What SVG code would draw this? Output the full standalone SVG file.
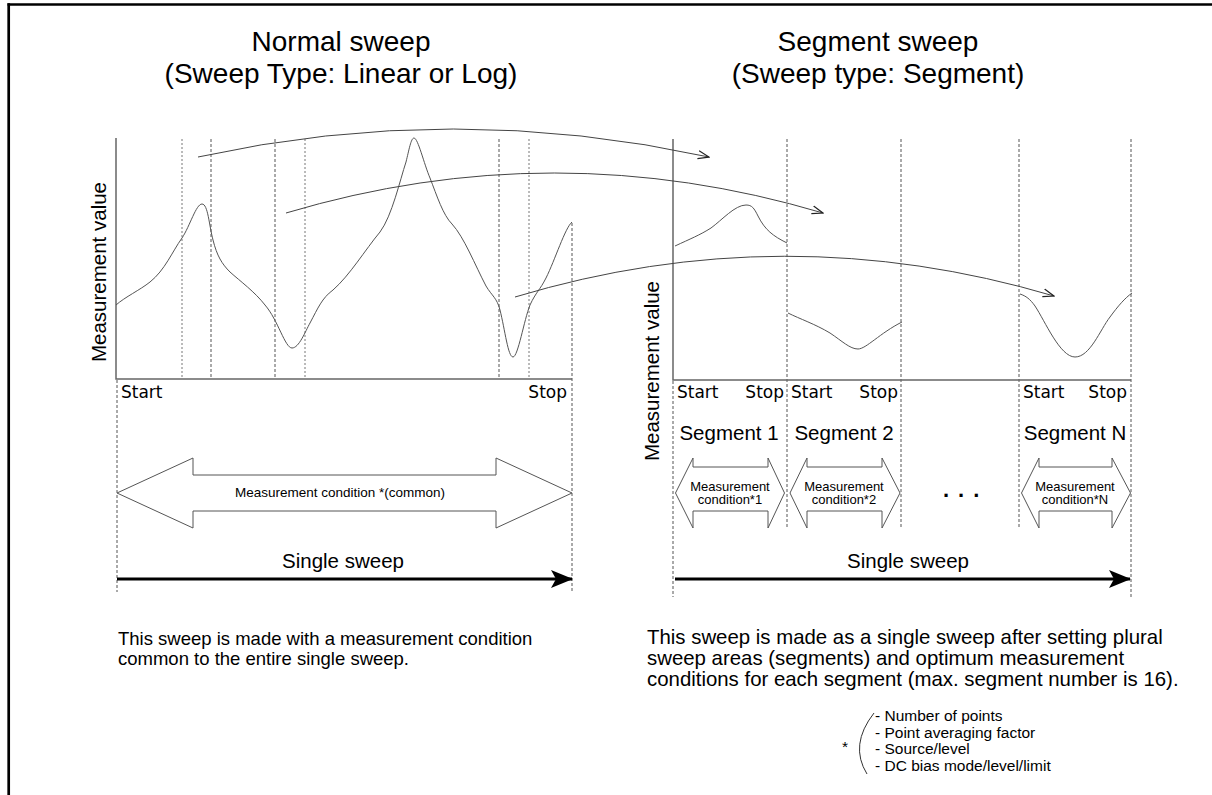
<svg xmlns="http://www.w3.org/2000/svg" width="1212" height="795" viewBox="0 0 1212 795">
<style>
.t{font-family:"Liberation Sans",Arial,sans-serif;fill:#000}
.title{font-size:28px;text-anchor:middle}
.bl{font-size:18.5px}
.br{font-size:20.4px}
.lbl{font-size:20.5px;text-anchor:middle}
.ss{font-family:"DejaVu Sans","Liberation Sans",sans-serif;font-size:17px;fill:#000}
.small{font-size:13px;text-anchor:middle}
.fn{font-size:15.5px}
.axis{stroke:#666;stroke-width:1.5;fill:none}
.dA{stroke:#777;stroke-width:1;stroke-dasharray:2 2;fill:none}
.dB{stroke:#555;stroke-width:1;stroke-dasharray:3 2;fill:none}
.curve{stroke:#555;stroke-width:1;fill:none}
.arc{stroke:#444;stroke-width:1;fill:none;marker-end:url(#open)}
.hollow{fill:#fff;stroke:#555;stroke-width:1}
.thick{stroke:#000;stroke-width:3;fill:none;marker-end:url(#solid)}
</style>
<defs>
<marker id="open" viewBox="0 0 12 10" refX="11" refY="5" markerWidth="12" markerHeight="10" markerUnits="userSpaceOnUse" orient="auto">
<path d="M0,1 L11,5 L0,9" fill="none" stroke="#222" stroke-width="1.2"/>
</marker>
<marker id="solid" viewBox="0 0 22 18" refX="21" refY="9" markerWidth="22" markerHeight="18" markerUnits="userSpaceOnUse" orient="auto">
<path d="M0,0 L22,9 L0,18 L5,9 Z" fill="#000"/>
</marker>
</defs>
<rect width="1212" height="795" fill="#fff"/>
<g id="frame">
<line x1="7.5" y1="4.5" x2="1212" y2="4.5" stroke="#000" stroke-width="2.5"/>
<line x1="8.7" y1="3.3" x2="8.7" y2="795" stroke="#000" stroke-width="2.7"/>
</g>
<g id="titles">
<text class="t title" x="341" y="51">Normal sweep</text>
<text class="t title" x="341" y="83">(Sweep Type: Linear or Log)</text>
<text class="t title" x="878" y="51">Segment sweep</text>
<text class="t title" x="878" y="83">(Sweep type: Segment)</text>
</g>
<g id="normal-chart">
<line class="dA" x1="182" y1="139" x2="182" y2="379"/>
<line class="dB" x1="211" y1="139" x2="211" y2="379"/>
<line class="dB" x1="275" y1="139" x2="275" y2="379"/>
<line class="dA" x1="305" y1="139" x2="305" y2="379"/>
<line class="dB" x1="499" y1="139" x2="499" y2="379"/>
<line class="dA" x1="529" y1="139" x2="529" y2="379"/>
<line class="dB" x1="572" y1="223" x2="572" y2="592"/>
<line class="dB" x1="117" y1="380" x2="117" y2="592"/>
<path class="axis" d="M116,138 V379 H572"/>
<path class="curve" d="M116,305 C125,297 140,290 150,282 C165,270 172,252 182,238 C190,226 196,204 202,204 C208,204 209,225 213,240 C217,256 222,264 230,272 C240,281 255,292 265,305 C278,320 285,348 292,348 C299,348 305,332 310,323 C318,308 322,298 333,290 C350,275 365,250 380,232 C392,216 400,180 406,162 C409,150 411,138 414,138 C418,138 424,164 430,178 C437,196 443,215 452,224 C464,237 475,265 486,286 C492,296 497,298 500,310 C505,330 508,357 513,357 C518,357 524,320 530,305 C536,292 540,290 546,278 C555,260 565,228 572,222"/>
<text class="t lbl" transform="translate(106,272) rotate(-90)">Measurement value</text>
<text class="ss" x="121" y="398">Start</text>
<text class="ss" x="567" y="398" text-anchor="end">Stop</text>
</g>
<g id="normal-condition">
<polygon class="hollow" points="117,493 193,458 193,475 496,475 496,458 572,493 496,528 496,511 193,511 193,528"/>
<text class="t small" x="340" y="497" style="font-size:13.5px">Measurement condition *(common)</text>
</g>
<g id="segment-chart">
<line class="dB" x1="787" y1="139" x2="787" y2="528"/>
<line class="dB" x1="901" y1="139" x2="901" y2="529"/>
<line class="dB" x1="1019" y1="139" x2="1019" y2="527"/>
<line class="dB" x1="1131" y1="139" x2="1131" y2="598"/>
<line class="dB" x1="673" y1="381" x2="673" y2="597"/>
<path class="axis" d="M673,139 V380 H1131"/>
<path class="curve" d="M675,246 C690,239 700,235 711,228 C722,220 735,205 746,205 C752,205 754,208 758,216 C765,230 773,236 787,243"/>
<path class="curve" d="M788,313 C800,319 815,324 830,333 C842,341 850,349 858,349 C866,349 880,333 902,322"/>
<path class="curve" d="M1020,294 C1026,296 1030,299 1035,306 C1045,321 1060,357 1075,357 C1090,357 1100,330 1110,317 C1118,306 1125,298 1132,293"/>
<text class="t lbl" transform="translate(659,371) rotate(-90)">Measurement value</text>
<text class="ss" x="677" y="398">Start</text>
<text class="ss" x="784" y="398" text-anchor="end">Stop</text>
<text class="ss" x="791" y="398">Start</text>
<text class="ss" x="898" y="398" text-anchor="end">Stop</text>
<text class="ss" x="1023" y="398">Start</text>
<text class="ss" x="1127" y="398" text-anchor="end">Stop</text>
</g>
<g id="segment-1">
<text class="t lbl" x="729" y="440">Segment 1</text>
<polygon class="hollow" points="675.5,493 693,458 693,467 768,467 768,458 784.5,493 768,528 768,511 693,511 693,528"/>
<text class="t small" x="730" y="491">Measurement</text>
<text class="t small" x="730" y="504">condition*1</text>
</g>
<g id="segment-2">
<text class="t lbl" x="844" y="440">Segment 2</text>
<polygon class="hollow" points="790,493 807,458 807,467 882,467 882,458 900,493 882,528 882,511 807,511 807,528"/>
<text class="t small" x="844" y="491">Measurement</text>
<text class="t small" x="844" y="504">condition*2</text>
</g>
<g id="ellipsis">
<text class="t" x="943" y="497" style="font-size:22px;font-weight:bold;letter-spacing:9px">...</text>
</g>
<g id="segment-n">
<text class="t lbl" x="1075" y="440">Segment N</text>
<polygon class="hollow" points="1021.5,493 1039,458 1039,467 1112,467 1112,458 1130.5,493 1112,528 1112,511 1039,511 1039,528"/>
<text class="t small" x="1075" y="491">Measurement</text>
<text class="t small" x="1075" y="504">condition*N</text>
</g>
<g id="connectors">
<path class="arc" d="M198,157 Q453,101 709,157"/>
<path class="arc" d="M286,213 Q554,133 823,213"/>
<path class="arc" d="M515,297 Q784,216 1054,296"/>
<line class="thick" x1="117" y1="579" x2="572" y2="579"/>
<line class="thick" x1="675" y1="579" x2="1130" y2="579"/>
</g>
<g id="sweep-labels">
<text class="t lbl" x="343" y="568">Single sweep</text>
<text class="t lbl" x="908" y="568">Single sweep</text>
</g>
<g id="notes">
<text class="t bl" x="118" y="645">This sweep is made with a measurement condition</text>
<text class="t bl" x="118" y="665">common to the entire single sweep.</text>
<text class="t br" x="647" y="644">This sweep is made as a single sweep after setting plural</text>
<text class="t br" x="647" y="665">sweep areas (segments) and optimum measurement</text>
<text class="t br" x="647" y="686">conditions for each segment (max. segment number is 16).</text>
</g>
<g id="footnote">
<text class="t fn" x="842" y="752">*</text>
<path d="M874,713 Q849,745 867,774" fill="none" stroke="#333" stroke-width="1"/>
<text class="t fn" x="875" y="721">-  Number of points</text>
<text class="t fn" x="875" y="737.5">-  Point averaging factor</text>
<text class="t fn" x="875" y="754">-  Source/level</text>
<text class="t fn" x="875" y="770.5">-  DC bias mode/level/limit</text>
</g>
</svg>
